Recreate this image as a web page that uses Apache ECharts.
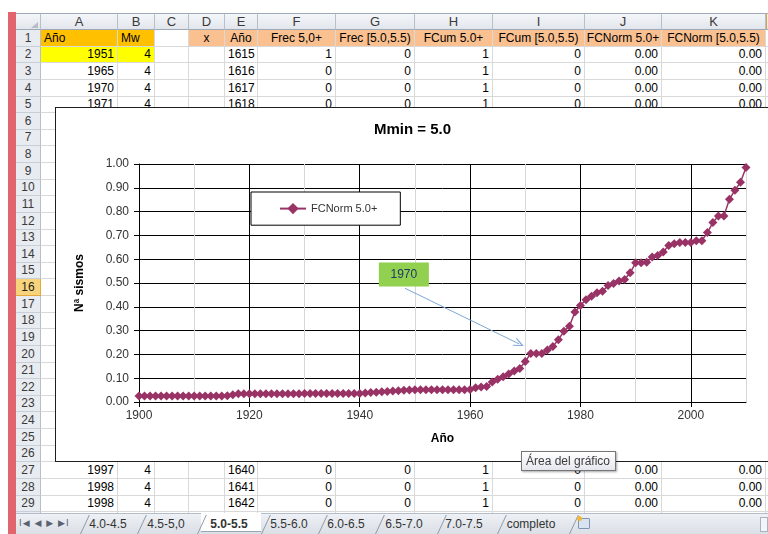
<!DOCTYPE html>
<html>
<head>
<meta charset="utf-8">
<script src="https://cdn.jsdelivr.net/npm/echarts@6/dist/echarts.min.js"></script>
<style>
html,body{margin:0;padding:0;}
body{width:768px;height:534px;overflow:hidden;position:relative;background:#fff;font-family:"Liberation Sans",Arial,sans-serif;}
.abs{position:absolute;box-sizing:border-box;white-space:nowrap;}
.cell{border-right:1px solid #d9d9d9;border-bottom:1px solid #d9d9d9;font-size:12px;padding:0 3px;color:#000;overflow:hidden;}
.rh{background:#e8ebf0;border-right:1px solid #b7bfca;border-bottom:1px solid #c9cfd8;font-size:12px;color:#3a3a3a;text-align:center;}
.ch{background:linear-gradient(#f4f6f9,#e2e6ec);border-right:1px solid #b7bfca;border-bottom:1px solid #9ea9b8;font-size:13px;color:#3a3a3a;text-align:center;}
#chartBox{position:absolute;left:55px;top:107px;width:730px;height:355px;box-sizing:border-box;border:1px solid #1e1e1e;background:#fff;z-index:5;}
#chart{width:728px;height:353px;}
#tip{position:absolute;left:521px;top:451px;width:95px;height:20px;box-sizing:border-box;border:1px solid #767676;background:linear-gradient(#ffffff,#e6e7ee);font-size:12px;color:#3c3c3c;line-height:18px;padding-left:4px;z-index:10;box-shadow:1px 1px 2px rgba(0,0,0,0.35);}
#tabbar{position:absolute;left:16px;top:513px;width:752px;height:21px;background:linear-gradient(#eef1f5,#d9dee5);border-top:1px solid #b3bcc8;z-index:8;}
</style>
</head>
<body>
<div id="sheet"></div>
<div id="chartBox"><div id="chart"></div></div>
<div id="tip">Área del gráfico</div>
<div id="tabbar"></div>
<script>
// ---------------- chart data ----------------
const years = [
  1900,1901,1902,1903,1904,1905,1906,1907,1908,1909,
  1910,1911,1912,1913,1914,1915,1916,1917,1918,1919,
  1920,1921,1922,1923,1924,1925,1926,1927,1928,1929,
  1930,1931,1932,1933,1934,1935,1936,1937,1938,1939,
  1940,1941,1942,1943,1944,1945,1946,1947,1948,1949,
  1950,1951,1952,1953,1954,1955,1956,1957,1958,1959,
  1960,1961,1962,1963,1964,1965,1966,1967,1968,1969,
  1970,1971,1972,1973,1974,1975,1976,1977,1978,1979,
  1980,1981,1982,1983,1984,1985,1986,1987,1988,1989,
  1990,1991,1992,1993,1994,1995,1996,1997,1998,1999,
  2000,2001,2002,2003,2004,2005,2006,2007,2008,2009,2010
];
const fcNorm50 = [
  0.025,0.025,0.025,0.025,0.025,0.025,0.025,0.025,0.025,0.025,
  0.025,0.025,0.025,0.025,0.025,0.025,0.026,0.030,0.035,0.035,
  0.035,0.035,0.035,0.035,0.035,0.035,0.035,0.035,0.035,0.035,
  0.036,0.036,0.036,0.036,0.036,0.036,0.036,0.036,0.036,0.036,
  0.036,0.038,0.040,0.041,0.043,0.044,0.046,0.047,0.049,0.050,
  0.051,0.051,0.051,0.051,0.051,0.051,0.051,0.051,0.051,0.051,
  0.053,0.060,0.063,0.065,0.084,0.096,0.106,0.118,0.130,0.141,
  0.170,0.204,0.204,0.204,0.219,0.233,0.262,0.297,0.318,0.378,
  0.405,0.430,0.444,0.459,0.465,0.489,0.498,0.508,0.515,0.543,
  0.585,0.585,0.587,0.609,0.616,0.630,0.658,0.665,0.670,0.670,
  0.670,0.678,0.678,0.712,0.754,0.782,0.782,0.852,0.890,0.923,0.985
];
const xLabelYears = [1900,1920,1940,1960,1980,2000];
const seriesName = 'FCNorm 5.0+';
const chartTitle = 'Mmin = 5.0';
const xAxisName = 'Año';
const yAxisName = 'Nª sismos';
const calloutText = '1970';
const calloutAt = [1948.0, 0.536];
const arrowFrom = [1948.2, 0.478];
const arrowTo = [1968.9, 0.244];

// ---------------- spreadsheet data ----------------
const colLetters = ['A','B','C','D','E','F','G','H','I','J','K'];
const headerRow = ['Año','Mw','','x','Año','Frec 5,0+','Frec [5.0,5.5)','FCum 5.0+','FCum [5.0,5.5)','FCNorm 5.0+','FCNorm [5.0,5.5)'];
const row2 = ['1951','4','','','1615','1','0','1','0','0.00','0.00'];
const row3 = ['1965','4','','','1616','0','0','1','0','0.00','0.00'];
const row4 = ['1970','4','','','1617','0','0','1','0','0.00','0.00'];
const row5 = ['1971','4','','','1618','0','0','1','0','0.00','0.00'];
const row27 = ['1997','4','','','1640','0','0','1','0','0.00','0.00'];
const row28 = ['1998','4','','','1641','0','0','1','0','0.00','0.00'];
const row29 = ['1998','4','','','1642','0','0','1','0','0.00','0.00'];
const row30 = ['1999','4','','','1643','0','0','1','0','0.00','0.00'];
const sheetTabs = ['4.0-4.5','4.5-5,0','5.0-5.5','5.5-6.0','6.0-6.5','6.5-7.0','7.0-7.5','completo'];
const activeTab = '5.0-5.5';

// ---------------- spreadsheet layout ----------------
const colX = [41,118,155,189,225,258,336,415,493,585,662,766];
const rowTopOf = r => Math.round(30 + (r - 1) * 16.63);
const sheet = document.getElementById('sheet');
function box(cls, l, t, w, h, txt, style) {
  const d = document.createElement('div');
  d.className = 'abs ' + cls;
  d.style.left = l + 'px'; d.style.top = t + 'px';
  d.style.width = w + 'px'; d.style.height = h + 'px';
  d.style.lineHeight = (h - 1) + 'px';
  if (txt !== undefined) d.textContent = txt;
  if (style) Object.assign(d.style, style);
  sheet.appendChild(d);
  return d;
}
box('', 8, 12, 8, 522, undefined, {background:'#e2646d'});
box('ch', 16, 13, 25, 17, '', {borderTop:'1px solid #9ea9b8'});
box('', 31, 22, 0, 0, undefined, {borderLeft:'7px solid transparent', borderBottom:'6px solid #b8bec8'});
colLetters.forEach((c, i) => box('ch', colX[i], 13, colX[i+1]-colX[i], 17, c, {borderTop:'1px solid #9ea9b8'}));
box('ch', 766, 13, 10, 17, '', {borderTop:'1px solid #9ea9b8', borderLeft:'1px solid #d9a24a'});
const dataRows = {1:headerRow, 2:row2, 3:row3, 4:row4, 5:row5, 27:row27, 28:row28, 29:row29, 30:row30};
for (let r = 1; r <= 31; r++) {
  const t = rowTopOf(r), h = rowTopOf(r+1) - t;
  box('rh', 16, t, 25, h, String(r), r === 16 ? {background:'#f7d47c', borderBottom:'1px solid #e2a83a', borderRight:'1px solid #e2a83a', color:'#222'} : null);
  const vals = dataRows[r];
  for (let c = 0; c < 11; c++) {
    const st = {};
    let txt = vals ? vals[c] : '';
    if (r === 1) {
      if (c <= 1) { st.background = '#ffc000'; st.textAlign = 'left'; }
      else if (c >= 3) { st.background = '#fac090'; st.textAlign = 'center'; st.overflow = 'visible'; st.padding = '0'; }
    } else {
      st.textAlign = 'right';
      if (r === 2 && c <= 1) st.background = '#ffff00';
    }
    box('cell', colX[c], t, colX[c+1]-colX[c], h, txt, st);
  }
  box('cell', 766, t, 10, h, '');
}

// tab bar
const tabbar = document.getElementById('tabbar');
function tb(l, t, w, h, txt, style) {
  const d = document.createElement('div');
  d.className = 'abs';
  d.style.left = l + 'px'; d.style.top = t + 'px';
  d.style.width = w + 'px'; d.style.height = h + 'px';
  if (txt !== undefined) d.textContent = txt;
  if (style) Object.assign(d.style, style);
  tabbar.appendChild(d);
  return d;
}
tb(3, 1, 62, 17, 'I◀ ◀ ▶ ▶I', {fontFamily:'"DejaVu Sans"', fontSize:'9px', color:'#5a6270', lineHeight:'17px', letterSpacing:'1px'});
const tabCenters = [92,150,213,273,330,388,448,515];
const sepX = [64,121,181,245,302,359,421,481,553];
const ai = sheetTabs.indexOf(activeTab);
tb(sepX[ai]+4, -1, sepX[ai+1]-sepX[ai]-4, 19, undefined, {background:'#fff', borderBottom:'1px solid #9aa6b6'});
sepX.forEach(x => tb(x, 1, 1, 19, undefined, {background:'#8e99a8', transform:'skewX(-25deg)', transformOrigin:'bottom'}));
sheetTabs.forEach((s, i) => {
  tb(tabCenters[i]-35, 1, 70, 18, s, {textAlign:'center', fontSize:'12px', lineHeight:'18px', color:'#333', fontWeight: s === activeTab ? 'bold' : 'normal'});
});
tb(562, 4, 12, 11, undefined, {border:'1px solid #7f95b6', background:'#d9e3f2', borderRadius:'1px'});
tb(561, 2, 5, 5, undefined, {background:'#f0b93a', borderRadius:'3px'});
tb(744, 3, 8, 15, undefined, {border:'1px solid #a9b3c0', background:'#f3f5f8'});

// ---------------- chart ----------------
const FONT = '"Liberation Sans", Arial, sans-serif';
const chart = echarts.init(document.getElementById('chart'), null, {renderer:'canvas'});
const option = {
  animation: false,
  textStyle: {fontFamily: FONT},
  title: {
    text: chartTitle, left: 318, top: 14, padding: 0,
    textStyle: {fontSize: 15, fontWeight: 'bold', color: '#000', fontFamily: FONT}
  },
  legend: {
    data: [seriesName], left: 195, top: 84, padding: [11, 23, 11, 28],
    itemWidth: 26, itemHeight: 14, borderColor: '#000', borderWidth: 1, borderRadius: 0,
    backgroundColor: '#fff', selectedMode: false,
    textStyle: {fontSize: 11, color: '#333', fontFamily: FONT}
  },
  grid: {left: 83, top: 56, width: 607, height: 238, containLabel: false},
  xAxis: [{
    type: 'value', min: 1900, max: 2010, interval: 10, position: 'bottom',
    axisLine: {show: true, onZero: false, lineStyle: {color: '#000', width: 1}},
    axisTick: {show: false}, axisLabel: {show: false},
    splitLine: {show: true, lineStyle: {color: ['#000', '#d6d6d6'], width: 1}},
    name: xAxisName, nameLocation: 'middle', nameGap: 31,
    nameTextStyle: {fontSize: 12, fontWeight: 'bold', color: '#000', fontFamily: FONT}
  }, {
    type: 'value', min: 1900, max: 2010, interval: 20, position: 'bottom',
    axisLine: {show: false},
    axisTick: {show: true, length: 5, lineStyle: {color: '#000'}, customValues: xLabelYears},
    axisLabel: {show: true, margin: 8, fontSize: 12, color: '#333', fontFamily: FONT, customValues: xLabelYears,
      formatter: v => xLabelYears.indexOf(v) >= 0 ? String(v) : ''},
    splitLine: {show: false}
  }],
  yAxis: {
    type: 'value', min: 0, max: 1, interval: 0.1,
    axisLine: {show: true, lineStyle: {color: '#000', width: 1}},
    axisTick: {show: true, length: 5, lineStyle: {color: '#000'}},
    axisLabel: {formatter: v => v.toFixed(2), margin: 10, fontSize: 12, color: '#333', fontFamily: FONT},
    splitLine: {show: true, lineStyle: {color: '#000', width: 1}},
    name: yAxisName, nameLocation: 'middle', nameGap: 53,
    nameTextStyle: {fontSize: 12, fontWeight: 'bold', color: '#000', fontFamily: FONT}
  },
  series: [{
    name: seriesName, type: 'line', xAxisIndex: 0, yAxisIndex: 0,
    data: years.map((y, i) => [y, fcNorm50[i]]),
    symbol: 'diamond', symbolSize: 9, showAllSymbol: true,
    lineStyle: {color: '#993366', width: 1.5},
    itemStyle: {color: '#993366'},
    emphasis: {disabled: true},
    markLine: {
      silent: true, animation: false,
      symbol: ['none', 'path://M5,0L10,10L8.6,10L5,2.8L1.4,10L0,10Z'],
      symbolSize: [9, 10],
      lineStyle: {color: '#7da6d8', width: 1, type: 'solid'},
      label: {show: false}, emphasis: {disabled: true},
      data: [[{coord: arrowFrom}, {coord: arrowTo}]]
    },
    markPoint: {
      silent: true, animation: false,
      symbol: 'rect', symbolSize: [50, 24],
      itemStyle: {color: '#92d050'},
      label: {show: true, position: 'inside', formatter: calloutText, color: '#1f3864', fontSize: 12, fontFamily: FONT},
      emphasis: {disabled: true},
      data: [{coord: calloutAt}]
    }
  }]
};
chart.setOption(option);
</script>
</body>
</html>
